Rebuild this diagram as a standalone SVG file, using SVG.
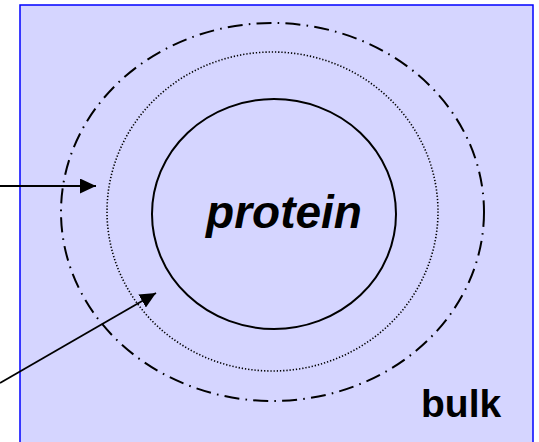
<svg xmlns="http://www.w3.org/2000/svg" width="539" height="442" viewBox="0 0 539 442">
  <style>
    .ring { fill: none; stroke: #000; }
    .solid { stroke-width: 2; }
    .dotted { stroke-width: 1.6; stroke-dasharray: 1.3 1.9; }
    .dashdot { stroke-width: 2; stroke-dasharray: 15 6.2 1.6 6.2; }
    .conn { stroke: #000; stroke-width: 1.8; fill: none; marker-end: url(#head); }
    .label { font-family: "Liberation Sans", Arial, sans-serif; font-weight: bold; fill: #000; }
  </style>
  <defs>
    <marker id="head" markerWidth="16" markerHeight="15" refX="16" refY="7.5" orient="auto" markerUnits="userSpaceOnUse">
      <path d="M0,0 L16,7.5 L0,15 Z" fill="#000"/>
    </marker>
  </defs>

  <!-- bulk region -->
  <g id="bulk">
    <rect x="20" y="5" width="513" height="445" fill="#D5D5FF" stroke="#0000FF" stroke-width="1.5"/>
    <text class="label" x="421" y="417" font-size="39">bulk</text>
  </g>

  <!-- outer shell -->
  <g id="outer-shell">
    <ellipse class="ring dashdot" cx="272.5" cy="212" rx="211.5" ry="189"/>
  </g>

  <!-- inner shell -->
  <g id="inner-shell">
    <ellipse class="ring dotted" cx="272.5" cy="211.5" rx="165.5" ry="159.5"/>
  </g>

  <!-- protein core -->
  <g id="protein">
    <ellipse class="ring solid" cx="274" cy="214" rx="122" ry="115"/>
    <text class="label" x="284" y="228" font-size="46" font-style="italic" text-anchor="middle">protein</text>
  </g>

  <!-- pointers -->
  <g id="connectors">
    <line class="conn" x1="0" y1="186" x2="96" y2="186"/>
    <line class="conn" x1="0" y1="383" x2="156" y2="293"/>
  </g>
</svg>
